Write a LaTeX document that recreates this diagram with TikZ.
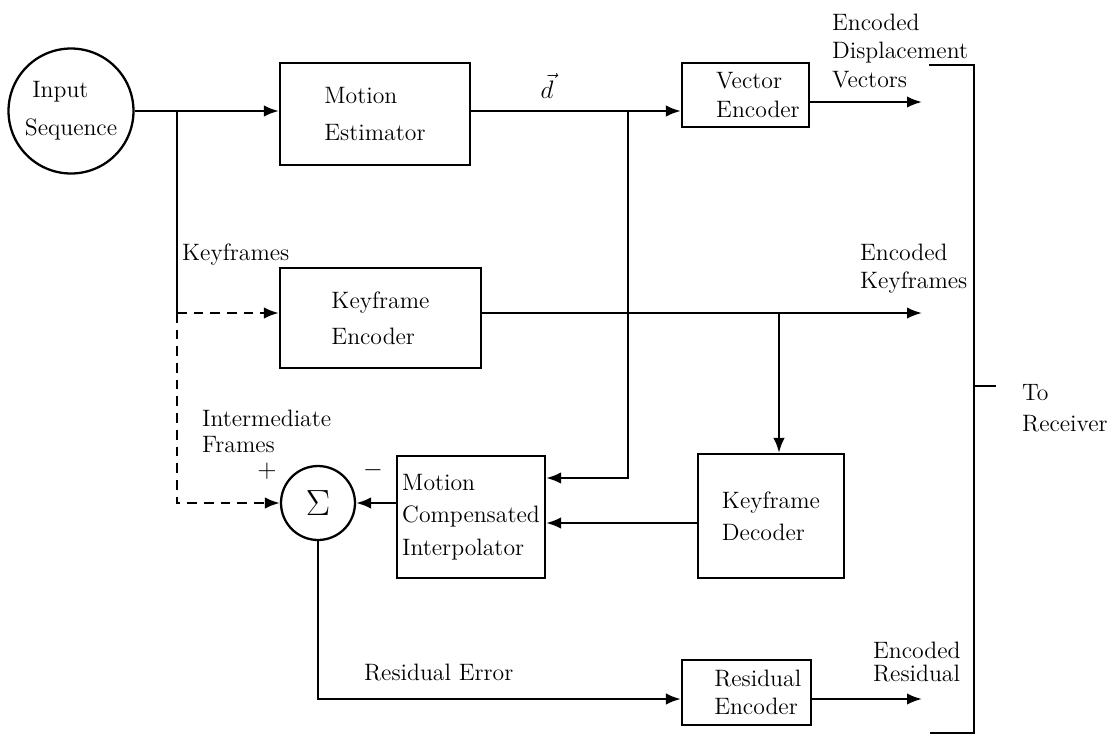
\documentclass[tikz,border=0pt]{standalone}
\usepackage{tikz}
\usetikzlibrary{arrows.meta,positioning,calc}

\begin{document}
\begin{tikzpicture}[x=0.02cm,y=-0.02cm,line width=1.3pt,>={Latex[length=8.5pt,width=6.5pt]},
    font=\fontsize{13.5}{16}\selectfont,
    blk/.style={draw,align=left,inner sep=0pt},
    sum/.style={draw,circle,inner sep=0pt,minimum size=1.48cm},
    lbl/.style={align=left,inner sep=0pt,anchor=west},
    dsh/.style={dash pattern=on 5.5pt off 4pt}]
      \useasboundingbox (0,0) rectangle (1120,735);

      \node [draw,circle,inner sep=0pt,minimum size=2.5cm,align=left] (input) at (71,111) {\hspace*{0.15cm}Input\\[5.6pt]Sequence};
      \node [blk,minimum width=3.8cm,minimum height=2.04cm] (motion-est) at (375,114) {Motion\\[5.6pt]Estimator};
      \node [blk,minimum width=2.54cm,minimum height=1.28cm] (vec-enc) at (745.5,95) {\hspace*{0.5cm}Vector\\\hspace*{0.5cm}Encoder};
      \node [blk,minimum width=4.02cm,minimum height=2cm] (key-enc) at (380.5,318) {Keyframe\\[4.5pt]Encoder};
      \node [sum] (sum) at (318,503) {\fontsize{20}{20}\selectfont$\Sigma$};
      \node [blk,minimum width=2.96cm,minimum height=2.44cm] (mc-interp) at (471,517) {Motion\\[2.5pt]Compensated\\[2.5pt]Interpolator};
      \node [blk,minimum width=2.92cm,minimum height=2.48cm] (key-dec) at (771,516) {Keyframe\\[2pt]Decoder};
      \node [blk,minimum width=2.58cm,minimum height=1.3cm] (res-enc) at (746.5,692.5) {\hspace*{0.45cm}Residual\\\hspace*{0.45cm}Encoder};

      \coordinate (kf-split) at (177,313);
      \coordinate (d-split) at (628,111);
      \coordinate (dec-split) at (779,313);
      \coordinate (ve-out) at (922,102);
      \coordinate (ke-out) at (922,313);
      \coordinate (re-out) at (922,699);

      \draw[->] (input.east) -- (input.east -| motion-est.west);
      \draw (input.east -| kf-split) -- (kf-split);
      \draw[dsh,->] (kf-split) -- (kf-split -| key-enc.west);
      \draw[dsh,->] (kf-split) |- (sum.west);
      \draw[->] (input.east -| motion-est.east) -- (input.east -| vec-enc.west);
      \draw[->] (d-split) |- (mc-interp.east |- 0,478);
      \draw[->] (vec-enc.east |- ve-out) -- (ve-out);
      \draw[->] (key-enc.east |- ke-out) -- (ke-out);
      \draw[->] (dec-split) -- (dec-split |- key-dec.north);
      \draw[->] (key-dec.west |- 0,523) -- (mc-interp.east |- 0,523);
      \draw[->] (mc-interp.west |- sum.east) -- (sum.east);
      \draw[->] (sum.south) |- (res-enc.west |- re-out);
      \draw[->] (res-enc.east |- re-out) -- (re-out);

      \node (d-vec) at (547,86) {$\vec{d}$};
      \node [lbl] (lbl-keyframes) at (181,255) {Keyframes};
      \node [lbl] (lbl-inter) at (201,431) {Intermediate\\[-1.2pt]Frames};
      \node (plus) at (267,471) {$+$};
      \node (minus) at (373,470) {$-$};
      \node [lbl] (lbl-dispvec) at (831,51) {Encoded\\Displacement\\Vectors};
      \node [lbl] (lbl-enckey) at (859,269) {Encoded\\Keyframes};
      \node [lbl] (lbl-encres) at (872,662) {Encoded\\[-2.5pt]Residual};
      \node [lbl] (lbl-reserr) at (363,673) {Residual Error};
      \node [lbl] (lbl-recv) at (1021,408) {To\\[1.6pt]Receiver};

      \coordinate (rx-top) at (929,65);
      \coordinate (rx-bot) at (974,733);
      \coordinate (rx-tick) at (974,386);
      \draw[line width=1pt] (rx-top) -| (rx-bot) -- ++(-44,0);
      \draw[line width=1pt] (rx-tick) -- ++(22,0);
  \end{tikzpicture}
\end{document}
